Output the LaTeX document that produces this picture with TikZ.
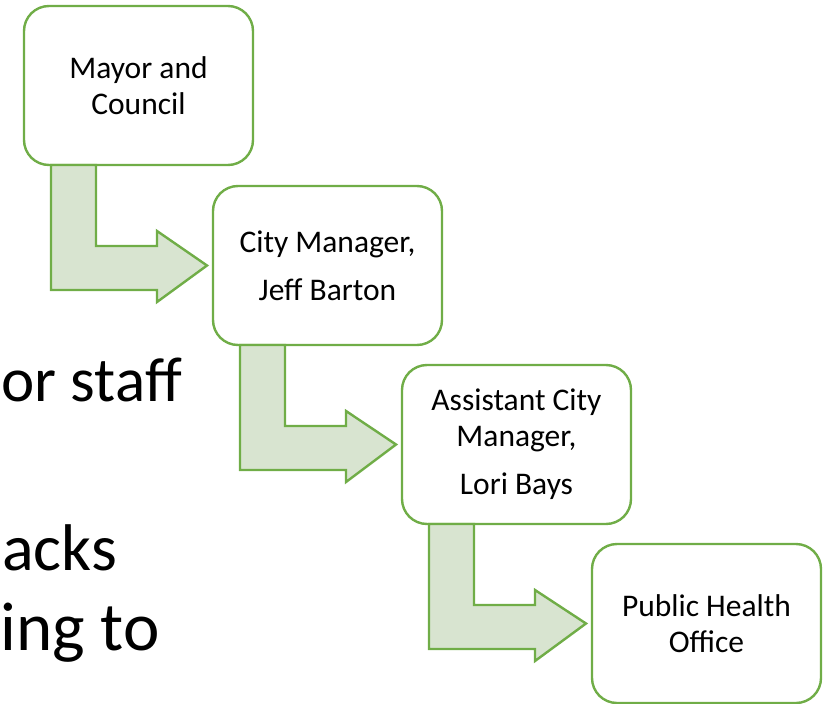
\documentclass[tikz,border=0pt]{standalone}
\usepackage{fontspec}
\setmainfont{Carlito}
\usepackage{tikz}
\usetikzlibrary{arrows,calc,positioning}
\definecolor{leafgreen}{HTML}{70AD47}
\definecolor{paleleaf}{RGB}{216,228,208}
\tikzset{
        block/.style = {draw=leafgreen, fill=white, rectangle,
            rounded corners=25pt, line width=2.4pt,
            minimum height=159pt,
            minimum width=229pt, inner sep=0pt, outer sep=0pt,
            align=center, font=\fontsize{31.5}{36}\selectfont},
        flow/.style = {draw=leafgreen, fill=paleleaf, line width=2.4pt},
        bigtext/.style = {inner sep=0pt, anchor=base east,
            font=\fontsize{63}{76}\selectfont},
    }
% bent arrow from the bottom left of one block to the side of the next
\newcommand{\stairarrow}[2]{%
    \draw[flow, shift={(#1.south west)}] (27,0) -- (72,0) -- (72,81)
        -- (133,81) -- (133,66) -- ($(#2.west)+(-6,0)$) -- (133,137)
        -- (133,125) -- (27,125) -- cycle;}

\begin{document}
\begin{tikzpicture}[x=1pt,y=-1pt]
        \useasboundingbox (0,0) rectangle (833,704);

        \node[bigtext] (staff) at (182,401) {or staff};
        \node[bigtext, font=\fontsize{66}{80}\selectfont] (acks)
            at (117,570) {acks};
        \node[bigtext, font=\fontsize{69}{80}\selectfont] (ingto)
            at (160,650) {ing to};

        \node[block] (mayor) at (138.5,85.5) {Mayor and\\Council};
        \node[block, below right=21pt and -40pt of mayor] (citymgr)
            {City Manager,\\[12pt]Jeff Barton};
        \node[block, below right=20pt and -40pt of citymgr] (asstmgr)
            {Assistant City\\Manager,\\[12pt]Lori Bays};
        \node[block, below right=20pt and -39pt of asstmgr] (health)
            {Public Health\\Office};

        \stairarrow{mayor}{citymgr}
        \stairarrow{citymgr}{asstmgr}
        \stairarrow{asstmgr}{health}
\end{tikzpicture}
\end{document}
